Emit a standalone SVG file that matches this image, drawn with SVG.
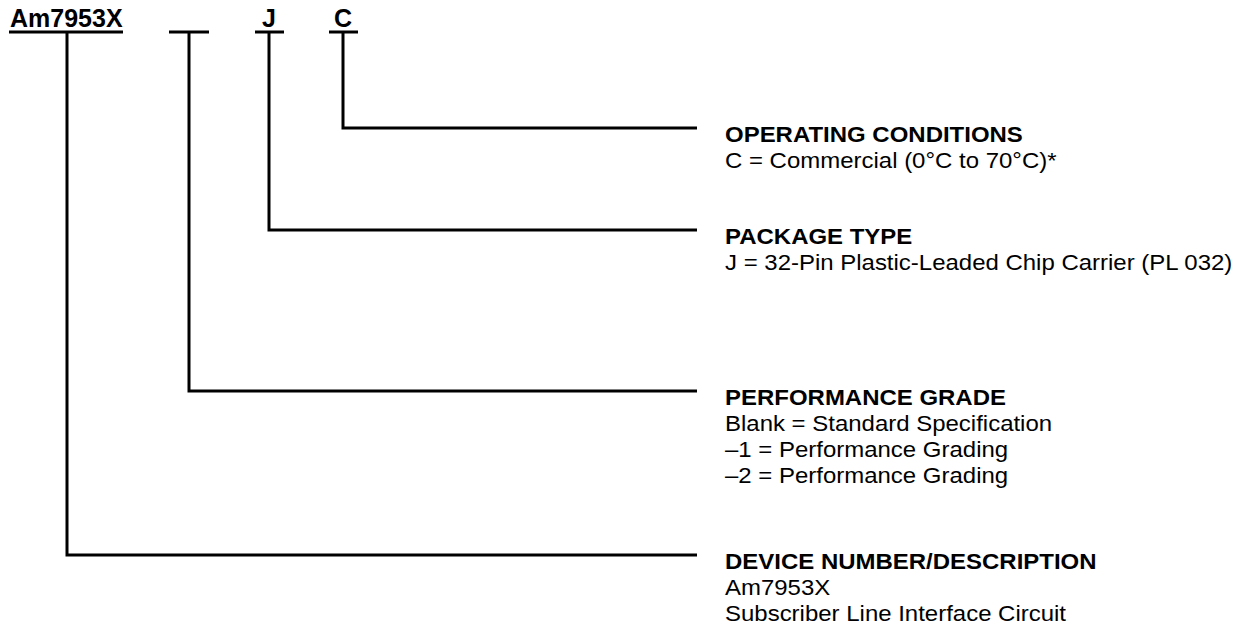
<svg xmlns="http://www.w3.org/2000/svg" width="1240" height="630" viewBox="0 0 1240 630">
<style>
.ln{stroke:#000;stroke-width:3;fill:none}
.h{font-family:"Liberation Sans",Arial,sans-serif;font-size:22px;font-weight:bold;fill:#000}
.t{font-family:"Liberation Sans",Arial,sans-serif;font-size:22px;fill:#000}
.top{font-family:"Liberation Sans",Arial,sans-serif;font-size:25px;font-weight:bold;fill:#000}
</style>
<rect width="1240" height="630" fill="#fff"/>
<g id="code">
<text class="top" x="10" y="27">Am7953X</text>
<text class="top" x="262" y="27">J</text>
<text class="top" x="334" y="27">C</text>
<line class="ln" x1="9" y1="32" x2="123" y2="32"/>
<line class="ln" x1="169" y1="32" x2="209" y2="32"/>
<line class="ln" x1="255" y1="32" x2="284" y2="32"/>
<line class="ln" x1="329" y1="32" x2="358" y2="32"/>
</g>
<g id="connectors">
<polyline class="ln" points="343,32 343,128 697,128"/>
<polyline class="ln" points="269,32 269,230 697,230"/>
<polyline class="ln" points="189,32 189,391 697,391"/>
<polyline class="ln" points="67,32 67,555 697,555"/>
</g>
<g transform="translate(725,0) scale(1.09,1)">
<g id="operating">
<text class="h" x="0" y="142">OPERATING CONDITIONS</text>
<text class="t" x="0" y="168">C = Commercial (0°C to 70°C)*</text>
</g>
<g id="package">
<text class="h" x="0" y="244">PACKAGE TYPE</text>
<text class="t" x="0" y="270">J = 32-Pin Plastic-Leaded Chip Carrier (PL 032)</text>
</g>
<g id="performance">
<text class="h" x="0" y="405">PERFORMANCE GRADE</text>
<text class="t" x="0" y="431">Blank = Standard Specification</text>
<text class="t" x="0" y="457">–1 = Performance Grading</text>
<text class="t" x="0" y="483">–2 = Performance Grading</text>
</g>
<g id="device">
<text class="h" x="0" y="569">DEVICE NUMBER/DESCRIPTION</text>
<text class="t" x="0" y="595">Am7953X</text>
<text class="t" x="0" y="621">Subscriber Line Interface Circuit</text>
</g>
</g>
</svg>
